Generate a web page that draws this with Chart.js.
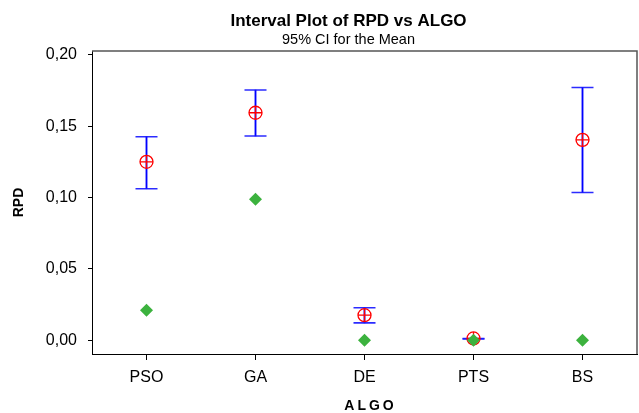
<!DOCTYPE html>
<html>
<head>
<meta charset="utf-8">
<script src="https://cdn.jsdelivr.net/npm/chart.js@4"></script>
<style>
  html, body { margin: 0; padding: 0; background: #fff; }
  #wrap { width: 639px; height: 413px; }
</style>
</head>
<body>
<div id="wrap"><canvas id="c" width="639" height="413"></canvas></div>
<script>
const categories = ['PSO', 'GA', 'DE', 'PTS', 'BS'];
const meanValues = [0.1251, 0.1595, 0.0175, 0.0012, 0.1405];
const ciLow      = [0.1062, 0.1432, 0.0121, 0.0008, 0.1036];
const ciHigh     = [0.1427, 0.1754, 0.0227, 0.0012, 0.1772];
const otherValues = [0.0210, 0.0989, 0.0, 0.0, 0.0];
const yTicks = [0, 0.05, 0.10, 0.15, 0.20];

const SANS = "'Liberation Sans', Arial, sans-serif";

const framePlugin = {
  id: 'frame',
  beforeDatasetsDraw(chart) {
    const {ctx, chartArea: a} = chart;
    ctx.save();
    ctx.strokeStyle = '#555';
    ctx.lineWidth = 1.5;
    ctx.beginPath();
    ctx.moveTo(a.left, a.top);
    ctx.lineTo(a.right, a.top);
    ctx.lineTo(a.right, a.bottom);
    ctx.stroke();
    ctx.restore();
  }
};

let wrapped = false;
new Chart(document.getElementById('c'), {
  type: 'bar',
  data: {
    labels: categories,
    datasets: [
      {
        type: 'line', label: 'Other', data: otherValues, showLine: false,
        pointStyle: 'rectRot', pointRadius: 6.5, pointHoverRadius: 6.5,
        backgroundColor: 'rgb(60,178,62)', borderColor: 'rgb(60,178,62)', borderWidth: 0
      },
      {
        type: 'line', label: 'Mean', data: meanValues, showLine: false,
        pointStyle: 'circle', pointRadius: 6.5, pointHoverRadius: 6.5,
        backgroundColor: 'rgba(0,0,0,0)', borderColor: '#ff0000', borderWidth: 1.3
      },
      {
        type: 'line', label: 'MeanCross', data: meanValues, showLine: false,
        pointStyle: 'cross', pointRadius: 6.5, pointHoverRadius: 6.5,
        borderColor: '#ff0000', borderWidth: 1.3
      },
      {
        type: 'line', label: 'Upper', data: ciHigh, showLine: false,
        pointStyle: 'line', pointRadius: 11, pointHoverRadius: 11,
        borderColor: 'rgba(20,20,255,0.9)', borderWidth: 1.6
      },
      {
        type: 'line', label: 'Lower', data: ciLow, showLine: false,
        pointStyle: 'line', pointRadius: 11, pointHoverRadius: 11,
        borderColor: 'rgba(20,20,255,0.9)', borderWidth: 1.6
      },
      {
        type: 'bar', label: 'CI', data: categories.map((c, i) => [ciLow[i], ciHigh[i]]),
        backgroundColor: '#0000ff', borderWidth: 0, barThickness: 1.2, grouped: false
      }
    ]
  },
  options: {
    responsive: false,
    animation: false,
    events: [],
    layout: { autoPadding: false, padding: { left: 0, right: -58, top: 0, bottom: 0 } },
    plugins: {
      legend: { display: false },
      tooltip: { enabled: false },
      title: {
        display: true, text: 'Interval Plot of RPD vs ALGO', color: '#000',
        font: { family: SANS, size: 17, weight: 'bold', lineHeight: 1.2 },
        padding: { top: 11, bottom: 0 }
      },
      subtitle: {
        display: true, text: '95% CI for the Mean', color: '#000',
        font: { family: SANS, size: 14.5, weight: 'normal', lineHeight: 1.2 },
        padding: { top: 0, bottom: 2.2 }
      }
    },
    scales: {
      x: {
        type: 'category', offset: true,
        grid: { offset: false, drawOnChartArea: false, drawTicks: true, tickLength: 6, color: '#000' },
        border: { display: true, color: '#000', width: 1 },
        ticks: { color: '#000', padding: 8, font: { family: SANS, size: 16 } },
        title: {
          display: true, text: 'ALGO', color: '#000',
          font: { family: SANS, size: 14, weight: 'bold', lineHeight: 1 },
          padding: { top: 0, bottom: 0 }
        },
        afterFit(scale) {
          scale.height = 59;
          scale.paddingLeft = 0;
          scale.paddingRight = 0;
          if (!wrapped) {
            wrapped = true;
            const orig = scale.drawTitle;
            scale.drawTitle = function () {
              const ctx = this.ctx;
              ctx.save();
              ctx.translate(6, 0);
              ctx.letterSpacing = '3px';
              orig.call(this);
              ctx.restore();
            };
          }
        }
      },
      y: {
        type: 'linear', min: -0.0097, max: 0.2028,
        afterBuildTicks(scale) { scale.ticks = yTicks.map(v => ({ value: v })); },
        grid: { drawOnChartArea: false, drawTicks: true, tickLength: 4, color: '#000' },
        border: { display: true, color: '#000', width: 1 },
        ticks: {
          color: '#000', padding: 11, font: { family: SANS, size: 16 },
          callback: (v) => Number(v).toFixed(2).replace('.', ',')
        },
        title: {
          display: true, text: 'RPD', color: '#000',
          font: { family: SANS, size: 14, weight: 'bold', lineHeight: 1.2 },
          padding: { top: 11, bottom: 0 }
        },
        afterFit(scale) { scale.width = 92; }
      },
      yRight: {
        type: 'linear', position: 'right', display: true,
        grid: { display: false, drawTicks: false },
        border: { display: false },
        ticks: { display: false },
        afterFit(scale) { scale.width = 60; scale.paddingTop = 0; scale.paddingBottom = 0; }
      }
    }
  },
  plugins: [framePlugin]
});
</script>
</body>
</html>
